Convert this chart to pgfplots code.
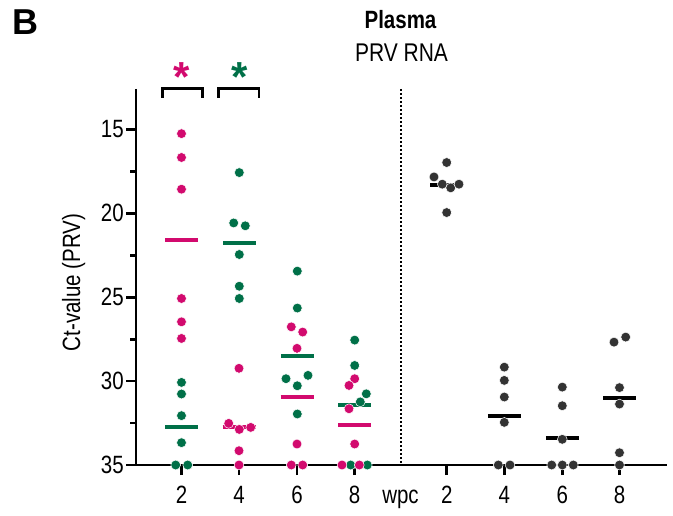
\documentclass[border=0pt]{standalone}
\usepackage{fontspec}
\setmainfont{Liberation Sans}[FakeStretch=0.82]
\newfontfamily\wide{Liberation Sans}
\usepackage{pgfplots}
\pgfplotsset{compat=1.18}
\definecolor{mag}{RGB}{210,10,110}
\definecolor{grn}{RGB}{0,112,72}
\definecolor{drk}{RGB}{51,51,51}
\begin{document}
\begin{tikzpicture}
\path[use as bounding box] (0,0) rectangle (673pt,516pt);
\begin{axis}[
  at={(136pt,51pt)}, anchor=south west,
  scale only axis, width=531pt, height=376pt,
  xmin=136, xmax=667, ymin=12.6, ymax=35, y dir=reverse,
  axis x line=bottom, axis y line=left,
  axis line style={-, line width=2.8pt},
  tick align=outside,
  major tick length=10pt, minor tick length=6pt,
  every tick/.style={black, line width=2.8pt},
  xtick={181.5,239,297,354.5,446.7,504.3,562.3,619.5},
  xticklabels={2,4,6,8,2,4,6,8},
  extra x ticks={400.5},
  extra x tick labels={\vphantom{2}wpc},
  extra x tick style={tick style={draw=none}},
  ytick={15,20,25,30,35},
  minor ytick={17.5,22.5,27.5,32.5},
  /pgf/number format/assume math mode=true,
  xticklabel style={font=\fontsize{25}{25}\selectfont, inner sep=3pt, yshift=-8pt},
  yticklabel style={font=\fontsize{25}{25}\selectfont, inner sep=2pt},
  clip=false,
]
% mean lines
\addplot[mag, line width=4pt] coordinates {(165,21.59) (198,21.59)};
\addplot[mag, line width=4pt] coordinates {(222.5,32.76) (255.5,32.76)};
\addplot[mag, line width=4pt] coordinates {(280.5,30.94) (313.5,30.94)};
\addplot[mag, line width=4pt] coordinates {(338,32.59) (371,32.59)};
\addplot[grn, line width=4pt] coordinates {(165,32.76) (198,32.76)};
\addplot[grn, line width=4pt] coordinates {(223,21.8) (256,21.8)};
\addplot[grn, line width=4pt] coordinates {(280.8,28.48) (313.8,28.48)};
\addplot[grn, line width=4pt] coordinates {(338,31.44) (371,31.44)};
\addplot[black, line width=4pt] coordinates {(430.2,18.3) (463.2,18.3)};
\addplot[black, line width=4pt] coordinates {(487.8,32.09) (520.8,32.09)};
\addplot[black, line width=4pt] coordinates {(545.8,33.38) (578.8,33.38)};
\addplot[black, line width=4pt] coordinates {(603,31.02) (636,31.02)};
% green dots
\addplot[only marks, mark=*, mark size=4.9pt, mark options={fill=grn, draw=white, line width=0.5pt}] coordinates {
(181.5,30.08) (181.5,30.77) (181.5,32.06) (181.5,33.67) (175.7,35) (187.7,35)
(239.3,17.58) (233.7,20.58) (245.3,20.75) (239.3,22.46) (239.3,24.35) (239.3,25.08)
(297.3,23.45) (297.3,25.65) (308,29.66) (286,29.86) (297.3,30.28) (297.3,31.96)
(354.7,27.56) (354.7,29.07) (366.3,30.76) (360.3,31.24) (350.7,35) (367.3,35)
};
% magenta dots
\addplot[only marks, mark=*, mark size=4.9pt, mark options={fill=mag, draw=white, line width=0.5pt}] coordinates {
(181.5,15.26) (181.5,16.68) (181.5,18.57) (181.5,25.08) (181.5,26.47) (181.5,27.46)
(239,29.24) (228.7,32.52) (239.3,32.88) (250.7,32.76) (239,34.15) (239,35)
(291.3,26.77) (302.7,27.08) (297,28.05) (297,33.75) (291.3,35) (302.7,35)
(354.7,29.86) (349,30.26) (349,31.65) (354.7,33.75) (342,35) (359.3,35)
};
% dark dots
\addplot[only marks, mark=*, mark size=4.9pt, mark options={fill=drk, draw=white, line width=0.5pt}] coordinates {
(446.7,16.98) (434,17.84) (442.3,18.27) (450.7,18.49) (459,18.27) (446.7,19.96)
(504.3,29.17) (504.3,29.96) (504.3,30.95) (504.3,32.46) (498.3,35) (510,35)
(562.3,30.36) (562.3,31.47) (562.3,33.47) (551.7,35) (562.3,35) (573.3,35)
(614,27.68) (625.7,27.38) (619.5,30.39) (619.5,31.37) (619.5,34.27) (619.5,35)
};
% divider
\addplot[black, line width=1.6pt, dash pattern=on 1.6pt off 2.4pt] coordinates {(400.7,12.6) (400.7,35)};
% brackets
\addplot[black, line width=2.8pt] coordinates {(162.3,13.11) (162.3,12.58) (202.3,12.58) (202.3,13.11)};
\addplot[black, line width=2.8pt] coordinates {(218.3,13.11) (218.3,12.58) (259,12.58) (259,13.11)};
\node[mag, font=\wide\bfseries\fontsize{42}{42}\selectfont, anchor=base] at (axis cs:181.5,12.75) {*};
\node[grn, font=\wide\bfseries\fontsize{42}{42}\selectfont, anchor=base] at (axis cs:239.3,12.75) {*};
\end{axis}
\node[anchor=base, font=\bfseries\fontsize{25}{25}\selectfont] at (400.5pt,487.7pt) {Plasma};
\node[anchor=base, font=\fontsize{25.6}{25.6}\selectfont] at (401.5pt,454.3pt) {PRV RNA};
\node[anchor=base west, inner sep=0pt, font=\wide\bfseries\fontsize{36}{36}\selectfont] at (12pt,481pt) {B};
\node[rotate=90, anchor=base, font=\fontsize{25}{25}\selectfont] at (80pt,233.5pt) {Ct-value (PRV)};
\end{tikzpicture}
\end{document}
